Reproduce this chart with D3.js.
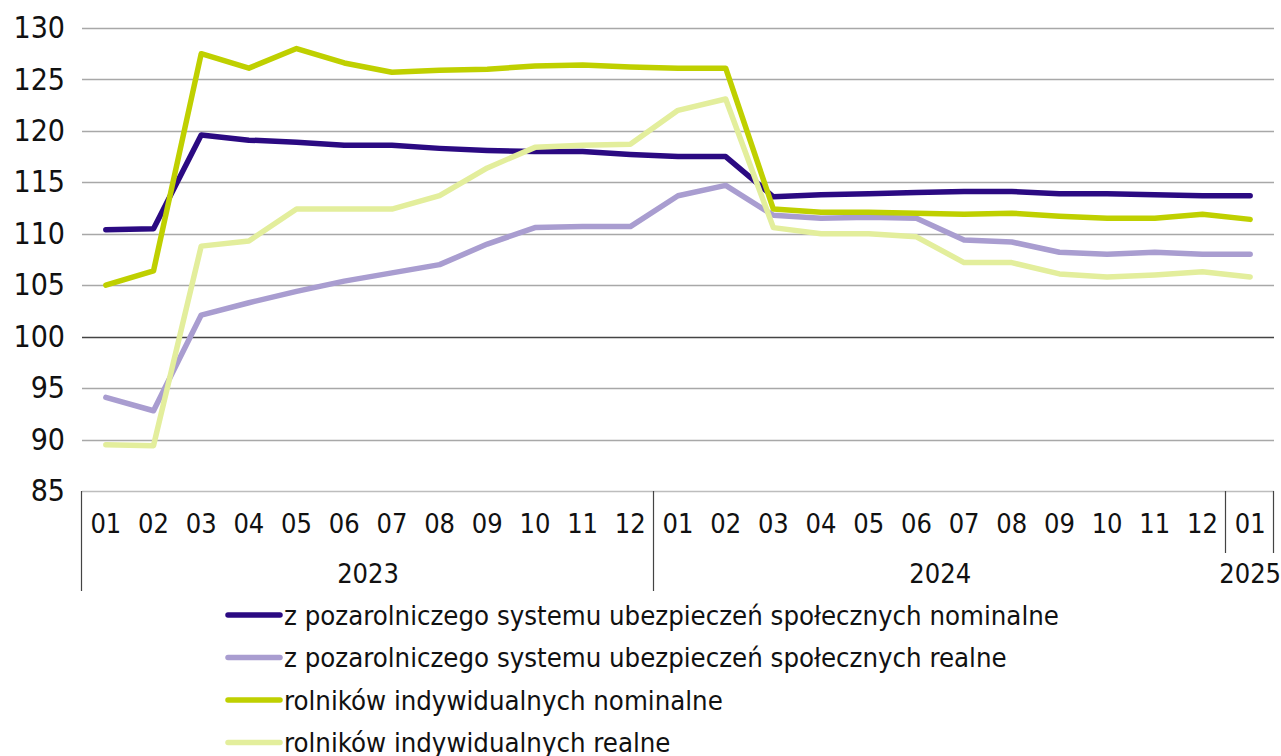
<!DOCTYPE html>
<html>
<head>
<meta charset="utf-8">
<script src="https://cdn.jsdelivr.net/npm/d3@7"></script>
<style>
  body { margin: 0; background: #fff; }
  text { font-family: "Liberation Sans Narrow", "DejaVu Sans Condensed", sans-serif; fill: #111; }
</style>
</head>
<body>
<div id="chart"></div>
<script>
// data
const months = ["01","02","03","04","05","06","07","08","09","10","11","12",
                "01","02","03","04","05","06","07","08","09","10","11","12","01"];
const years = [
  { label: "2023", start: 0, end: 12 },
  { label: "2024", start: 12, end: 24 },
  { label: "2025", start: 24, end: 25 }
];
const yTicks = [85, 90, 95, 100, 105, 110, 115, 120, 125, 130];

const pozaNominalne = [110.4, 110.5, 119.6, 119.1, 118.9, 118.6, 118.6, 118.3, 118.1, 118.0, 118.0, 117.7,
                       117.5, 117.5, 113.6, 113.8, 113.9, 114.0, 114.1, 114.1, 113.9, 113.9, 113.8, 113.7, 113.7];
const pozaRealne = [94.1, 92.8, 102.1, 103.3, 104.4, 105.4, 106.2, 107.0, 109.0, 110.6, 110.7, 110.7,
                    113.7, 114.7, 111.8, 111.5, 111.6, 111.5, 109.4, 109.2, 108.2, 108.0, 108.2, 108.0, 108.0];
const rolnNominalne = [105.0, 106.4, 127.5, 126.1, 128.0, 126.6, 125.7, 125.9, 126.0, 126.3, 126.4, 126.2,
                       126.1, 126.1, 112.4, 112.1, 112.1, 112.0, 111.9, 112.0, 111.7, 111.5, 111.5, 111.9, 111.4];
const rolnRealne = [89.5, 89.4, 108.8, 109.3, 112.4, 112.4, 112.4, 113.7, 116.4, 118.4, 118.6, 118.7,
                    122.0, 123.1, 110.6, 110.0, 110.0, 109.7, 107.2, 107.2, 106.1, 105.8, 106.0, 106.3, 105.8];

const seriesNames = [
  "z pozarolniczego systemu ubezpieczeń społecznych nominalne",
  "z pozarolniczego systemu ubezpieczeń społecznych realne",
  "rolników indywidualnych nominalne",
  "rolników indywidualnych realne"
];
const seriesColors = ["#2b0a82", "#a99dd0", "#bfd000", "#e3ee9c"];
const seriesValues = [pozaNominalne, pozaRealne, rolnNominalne, rolnRealne];

const width = 1281, height = 756;
const margin = { left: 82, right: 7, top: 28, bottom: 265 };

const svg = d3.select("#chart").append("svg")
  .attr("width", width)
  .attr("height", height);

const xScale = d3.scaleBand()
  .domain(d3.range(months.length))
  .range([margin.left, width - margin.right]);

const yScale = d3.scaleLinear()
  .domain([85, 130])
  .range([height - margin.bottom, margin.top]);

const bw = xScale.bandwidth();
const xEdge = i => margin.left + i * bw;
const axisY = yScale(85);

// gridlines
svg.append("g").selectAll("line").data(yTicks.filter(d => d > 85))
  .enter().append("line")
    .attr("x1", margin.left).attr("x2", width - margin.right)
    .attr("y1", d => Math.round(yScale(d)) + 0.5)
    .attr("y2", d => Math.round(yScale(d)) + 0.5)
    .attr("stroke", d => d === 100 ? "#444" : "#a8a8a8")
    .attr("stroke-width", 1.3);

// y labels
const yAxis = d3.axisLeft(yScale).tickValues(yTicks).tickSize(0).tickPadding(17);
const yAxisG = svg.append("g")
  .attr("transform", `translate(${margin.left}, 0)`)
  .call(yAxis);
yAxisG.select(".domain").remove();
yAxisG.selectAll("text")
  .style("font-size", "30px")
  .attr("fill", "#111");

// bottom axis line
svg.append("line")
  .attr("x1", margin.left).attr("x2", width - margin.right)
  .attr("y1", axisY + 0.5).attr("y2", axisY + 0.5)
  .attr("stroke", "#bdbdbd").attr("stroke-width", 1.5);

// month labels
svg.append("g").selectAll("text").data(months)
  .enter().append("text")
    .attr("x", (d, i) => xScale(i) + bw / 2)
    .attr("y", axisY + 32)
    .attr("dominant-baseline", "central")
    .attr("text-anchor", "middle")
    .style("font-size", "27px")
    .text(d => d);

// year labels
svg.append("g").selectAll("text").data(years)
  .enter().append("text")
    .attr("x", d => (xEdge(d.start) + xEdge(d.end)) / 2)
    .attr("y", axisY + 82)
    .attr("dominant-baseline", "central")
    .attr("text-anchor", "middle")
    .style("font-size", "27px")
    .text(d => d.label);

// separators
const seps = [0, 12, 24, 25];
svg.append("g").selectAll("line").data(seps)
  .enter().append("line")
    .attr("x1", d => Math.round(xEdge(d)) - 0.5)
    .attr("x2", d => Math.round(xEdge(d)) - 0.5)
    .attr("y1", axisY)
    .attr("y2", d => d >= 24 ? axisY + 62 : axisY + 100)
    .attr("stroke", "#444")
    .attr("stroke-width", 1.2);

// lines
const line = d3.line()
  .x((d, i) => xScale(i) + bw / 2)
  .y(d => yScale(d));

svg.append("g").selectAll("path").data(seriesValues)
  .enter().append("path")
    .attr("fill", "none")
    .attr("stroke", (d, i) => seriesColors[i])
    .attr("stroke-width", 5.5)
    .attr("stroke-linejoin", "round")
    .attr("stroke-linecap", "round")
    .attr("d", d => line(d));

// legend
const legend = svg.append("g").attr("transform", "translate(228, 615)");
const rows = legend.selectAll("g").data(seriesNames)
  .enter().append("g")
    .attr("transform", (d, i) => `translate(0, ${i * 42.5})`);
rows.append("line")
  .attr("x1", 0).attr("x2", 52)
  .attr("stroke", (d, i) => seriesColors[i])
  .attr("stroke-width", 5.5)
  .attr("stroke-linecap", "round");
rows.append("text")
  .attr("x", 56)
  .attr("y", 0)
  .attr("dominant-baseline", "central")
  .style("font-size", "27.3px")
  .text(d => d);
</script>
</body>
</html>
